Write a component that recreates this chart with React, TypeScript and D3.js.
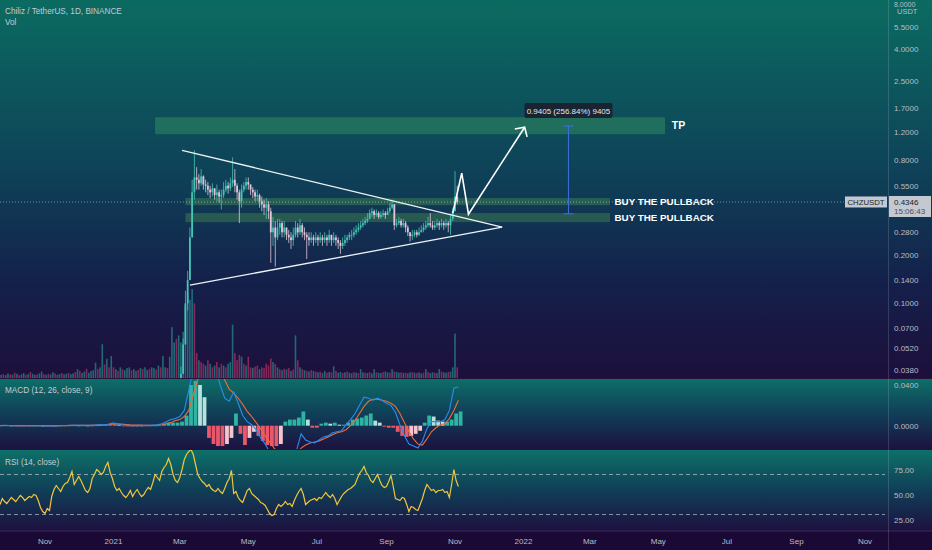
import React from "react";
import * as d3 from "d3";

const parse = (s: string) => d3.timeParse("%Y-%m-%d")(s) as Date;

// ---------- data ----------
const indicatorStart = "2020-09-22";
const indicatorStepDays = 4;
const rsiStepDays = 2;
const volumeStart = "2020-09-22";
const volumeStepDays = 2;
const candleStart = "2021-02-27";
const candleStepDays = 2;
const candleFirstOpen = 0.028;

const candleClose = [
  0.030, 0.036, 0.055, 0.100, 0.140, 0.260, 0.500, 0.620, 0.600, 0.570,
  0.630, 0.560, 0.550, 0.520, 0.500, 0.530, 0.480, 0.500, 0.470, 0.480,
  0.520, 0.550, 0.530, 0.570, 0.600, 0.550, 0.500, 0.440, 0.520, 0.550,
  0.580, 0.560, 0.520, 0.500, 0.470, 0.480, 0.440, 0.420, 0.400, 0.420,
  0.380, 0.280, 0.300, 0.260, 0.300, 0.320, 0.280, 0.300, 0.270, 0.260,
  0.250, 0.270, 0.300, 0.280, 0.310, 0.280, 0.270, 0.260, 0.250, 0.260,
  0.250, 0.260, 0.250, 0.260, 0.250, 0.260, 0.250, 0.270, 0.250, 0.260,
  0.250, 0.240, 0.230, 0.240, 0.250, 0.260, 0.270, 0.270, 0.280, 0.290,
  0.300, 0.310, 0.320, 0.330, 0.340, 0.370, 0.380, 0.360, 0.370, 0.350,
  0.360, 0.370, 0.360, 0.380, 0.400, 0.420, 0.310, 0.320, 0.330, 0.310,
  0.320, 0.300, 0.280, 0.265, 0.270, 0.280, 0.270, 0.280, 0.290, 0.300,
  0.310, 0.320, 0.310, 0.300, 0.310, 0.320, 0.310, 0.320, 0.310, 0.320,
  0.310, 0.340, 0.380, 0.470, 0.4346,
];
const candleHigh = [
  0.032, 0.040, 0.060, 0.120, 0.160, 0.300, 0.600, 0.920, 0.720, 0.650,
  0.700, 0.640, 0.600, 0.580, 0.550, 0.570, 0.530, 0.560, 0.520, 0.520,
  0.580, 0.600, 0.580, 0.620, 0.830, 0.700, 0.570, 0.520, 0.560, 0.580,
  0.620, 0.620, 0.560, 0.540, 0.520, 0.520, 0.490, 0.470, 0.450, 0.460,
  0.440, 0.400, 0.350, 0.330, 0.340, 0.340, 0.330, 0.330, 0.300, 0.290,
  0.280, 0.300, 0.330, 0.320, 0.340, 0.320, 0.300, 0.280, 0.280, 0.280,
  0.270, 0.280, 0.270, 0.280, 0.270, 0.280, 0.270, 0.290, 0.270, 0.280,
  0.270, 0.260, 0.250, 0.260, 0.270, 0.270, 0.280, 0.290, 0.300, 0.310,
  0.320, 0.330, 0.340, 0.350, 0.370, 0.390, 0.400, 0.390, 0.390, 0.380,
  0.380, 0.390, 0.380, 0.400, 0.430, 0.450, 0.420, 0.340, 0.350, 0.340,
  0.340, 0.330, 0.310, 0.280, 0.290, 0.290, 0.290, 0.300, 0.310, 0.320,
  0.330, 0.350, 0.370, 0.330, 0.330, 0.340, 0.330, 0.340, 0.330, 0.340,
  0.330, 0.360, 0.400, 0.680, 0.550,
];
const candleLow = [
  0.028, 0.030, 0.036, 0.055, 0.090, 0.140, 0.260, 0.450, 0.520, 0.520,
  0.550, 0.520, 0.500, 0.480, 0.460, 0.470, 0.450, 0.440, 0.430, 0.390,
  0.460, 0.500, 0.490, 0.510, 0.540, 0.500, 0.450, 0.320, 0.400, 0.500,
  0.520, 0.520, 0.480, 0.460, 0.440, 0.440, 0.400, 0.380, 0.360, 0.340,
  0.340, 0.180, 0.230, 0.170, 0.250, 0.270, 0.260, 0.260, 0.250, 0.240,
  0.220, 0.230, 0.260, 0.260, 0.270, 0.260, 0.250, 0.190, 0.230, 0.240,
  0.230, 0.240, 0.230, 0.240, 0.230, 0.240, 0.230, 0.240, 0.230, 0.240,
  0.230, 0.220, 0.205, 0.220, 0.230, 0.240, 0.250, 0.250, 0.260, 0.270,
  0.280, 0.290, 0.300, 0.310, 0.320, 0.340, 0.350, 0.340, 0.350, 0.340,
  0.340, 0.350, 0.340, 0.360, 0.370, 0.390, 0.290, 0.300, 0.310, 0.300,
  0.300, 0.280, 0.265, 0.245, 0.250, 0.260, 0.260, 0.265, 0.280, 0.280,
  0.290, 0.300, 0.300, 0.290, 0.290, 0.300, 0.290, 0.300, 0.290, 0.300,
  0.280, 0.270, 0.330, 0.380, 0.420,
];

// volume in millions of CHZ; negative sign = down day
const volumeM = [
  90, -110, 80, 130, -100, 90, -150, 120, -80, 100, 140, -90, 110, -170, 120, 90, -100, 130, 180, -110,
  90, -120, 100, 160, -130, 90, 110, -140, 100, 120, -150, 110, 130, -170, 250, -200, 140, 180, -260, 150,
  200, 220, 430, -250, 300, 950, -380, 540, -300, 620, -300, 250, -200, 300, -250, 220, 280, 300, -220, 250,
  200, -230, 280, -250, 300, 220, -260, 300, 280, -240, 350, -300, 620, 300, -280, 600, 1430, 1000, -1100, 1200,
  1000, 1300, 2000, 2400, 2200, 2500, -2100, -700, 500, -450, -400, 350, -500, 400, -300, 350, -450, 300, -400, 350,
  -300, 400, 450, 1500, -700, -500, -650, 600, -400, 350, -600, -300, 280, -320, -350, 250, -300, -280, -400, -350,
  -550, 450, -400, 300, -250, 220, -260, 240, -280, 200, -240, 1200, -500, 300, -250, 220, -200, 180, -220, 200,
  -180, 160, -180, 140, 200, -150, 170, -160, 330, -200, 150, 170, -140, 160, -180, 150, 130, -170, 150, -140,
  250, 160, -150, 140, -170, 130, 250, -160, 150, 140, -170, 180, 160, -150, 250, -180, 170, 150, -160, 140,
  -150, 130, 160, -170, 150, -140, 160, 130, -150, 250, -170, 140, 160, -150, 140, 250, -180, 160, 150, -170,
  180, 300, 1250, -300,
];

const macdLine = [
  0.0002, 0.0003, 0.0002, 0.0001, 0, 0, -0.0001, 0, 0.0001, 0, -0.0002, -0.0003, -0.0002, 0, 0.0002, 0.0003,
  0.0005, 0.0004, 0.0005, 0.0004, 0.0003, 0.0006, 0.0009, 0.001,
  0.0015, 0.0025, 0.002, 0.001, 0.0005, 0.0003, 0.0002, 0.0004, 0.0003, 0.0005, 0.0006, 0.0008,
  0.002, 0.004, 0.006, 0.007, 0.009, 0.015, 0.035, 0.055, 0.075, 0.085, 0.08, 0.07, 0.055, 0.04,
  0.027, 0.024, 0.033, 0.022, 0.01, 0.004, 0.001, -0.004, -0.012, -0.018, -0.026, -0.032, -0.034, -0.033, -0.031, -0.028, -0.024,
  -0.008, -0.014, -0.016, -0.017, -0.014, -0.011, -0.01, -0.007, -0.006, -0.005, 0.001, 0.006, 0.012, 0.02, 0.028, 0.027,
  0.025, 0.027, 0.025, 0.022, 0.02, 0.013, 0.001, -0.01, -0.018, -0.02, -0.022, -0.015, -0.003, 0.004, 0.004, 0.004,
  0.006, 0.015, 0.037, 0.038,
];
const macdSignal = [
  0.0001, 0.0002, 0.0002, 0.0002, 0.0001, 0.0001, 0, 0, 0, 0, 0, -0.0001, -0.0002, -0.0001, 0, 0.0001,
  0.0003, 0.0003, 0.0004, 0.0004, 0.0004, 0.0004, 0.0006, 0.0007,
  0.001, 0.0015, 0.0017, 0.0015, 0.0012, 0.0009, 0.0007, 0.0006, 0.0005, 0.0005, 0.0005, 0.0006,
  0.001, 0.002, 0.003, 0.005, 0.006, 0.009, 0.015, 0.03, 0.045, 0.058, 0.066, 0.068, 0.065, 0.057,
  0.045, 0.036, 0.032, 0.027, 0.021, 0.014, 0.009, 0.003, -0.003, -0.01, -0.016, -0.022, -0.027, -0.029, -0.03, -0.029, -0.027,
  -0.022, -0.019, -0.017, -0.016, -0.015, -0.013, -0.011, -0.009, -0.007, -0.006, -0.004, 0, 0.005, 0.012, 0.019, 0.024,
  0.026, 0.026, 0.025, 0.024, 0.022, 0.019, 0.012, 0.003, -0.006, -0.013, -0.018, -0.019, -0.013, -0.006, -0.002, 0.001,
  0.002, 0.007, 0.015, 0.025,
];
const macdHist = [
  0.0001, 0.0001, 0, -0.0001, -0.0001, -0.0001, -0.0001, 0, 0.0001, 0, -0.0002, -0.0002, 0, 0.0001, 0.0002, 0.0002,
  0.0002, 0.0001, 0.0001, 0, -0.0001, 0.0002, 0.0003, 0.0003,
  0.0005, 0.001, 0.0003, -0.0005, -0.0007, -0.0006, -0.0005, -0.0002, -0.0002, 0, 0.0001, 0.0002,
  0.002, 0.003, 0.003, 0.003, 0.004, 0.01, 0.04, 0.044, 0.04, 0.028, -0.012, -0.018, -0.02, -0.02,
  -0.018, -0.012, 0.012, -0.008, -0.019, -0.012, -0.006, -0.01, -0.015, -0.019, -0.02, -0.02, -0.018, 0.004, 0.006, 0.006, 0.008,
  0.014, 0.006, -0.002, -0.002, 0.002, 0.003, 0.002, 0.003, 0.001, 0.001, 0.003, 0.006, 0.007, 0.008, 0.01, 0.012,
  0.005, 0.003, -0.001, -0.002, -0.002, -0.006, -0.01, -0.011, -0.01, -0.008, -0.005, 0.003, 0.01, 0.009, 0.005, 0.004,
  0.004, 0.006, 0.012, 0.014,
];

// RSI every 2 days from 2020-09-22
const rsiValues = [
  40, 46, 43, 41, 44, 47, 45, 43, 46, 49, 47, 44, 46, 48, 47, 50, 49, 44, 37, 33,
  31, 36, 34, 48, 55, 59, 56, 53, 58, 61, 62, 67, 73, 60, 64, 68, 64, 59, 54, 52,
  56, 66, 70, 75, 73, 70, 72, 78, 82, 72, 66, 58, 54, 56, 52, 49, 47, 50, 54, 48,
  52, 55, 51, 48, 50, 54, 57, 55, 62, 70, 67, 64, 73, 77, 80, 86, 80, 70, 64, 62,
  67, 75, 85, 90, 93, 95, 90, 80, 70, 66, 63, 61, 58, 60, 56, 54, 53, 56, 53, 51,
  56, 62, 66, 74, 51, 53, 47, 44, 42, 48, 54, 56, 51, 49, 47, 45, 42, 41, 39, 35,
  31, 29, 30, 36, 40, 38, 40, 43, 40, 41, 38, 44, 49, 53, 56, 50, 40, 42, 44, 45,
  46, 44, 47, 46, 49, 52, 49, 47, 50, 46, 40, 44, 48, 51, 53, 55, 56, 58, 60, 66,
  71, 74, 78, 72, 69, 64, 62, 66, 70, 64, 59, 57, 58, 63, 69, 58, 46, 45, 44, 47,
  46, 40, 33, 38, 37, 35, 34, 40, 46, 54, 60, 57, 54, 55, 52, 54, 54, 55, 52, 53,
  47, 60, 75, 64, 58,
];

const priceTicks = [5.5, 4, 2.5, 1.7, 1.2, 0.8, 0.55, 0.28, 0.2, 0.14, 0.1, 0.07, 0.052, 0.038];
const topPriceTick = 8;
const macdTicks = [0.04, 0];
const rsiTicks = [75, 50, 25];
const rsiBands = [70, 30];
const timeStart = "2020-11-01";
const timeEnd = "2022-11-01";

const lastPrice = 0.4346;
const lastClock = "15:06:43";
const symbol = "CHZUSDT";
const titleText = "Chiliz / TetherUS, 1D, BINANCE";

const triangleUpper: [string, number][] = [["2021-03-03", 0.92], ["2021-12-13", 0.302]];
const triangleLower: [string, number][] = [["2021-03-10", 0.13], ["2021-12-13", 0.302]];
const zoneFrom = ["2021-02-07", "2021-03-06", "2021-03-06"];
const zoneTo = ["2022-05-07", "2022-03-19", "2022-03-19"];
const zoneLow = [1.162, 0.415, 0.3245];
const zoneHigh = [1.486, 0.46, 0.37];
const zoneLabels = ["TP", "BUY THE PULLBACK", "BUY THE PULLBACK"];
const zoneLabelDate = ["2022-05-13", "2022-03-23", "2022-03-23"];
const arrowPath: [string, number][] = [
  ["2021-10-30", 0.37], ["2021-11-07", 0.66], ["2021-11-13", 0.364], ["2022-01-02", 1.286],
];
const measureDate = "2022-02-10";
const measureFrom = 0.3662;
const measureTo = 1.3067;
const measureText = "0.9405 (256.84%) 9405";

// ---------- chart ----------
const FONT = "'Liberation Sans', Arial, sans-serif";
const AX = 888;

export default function App() {
  const x = d3.scaleTime().domain([parse(timeStart), parse(timeEnd)]).range([45, 865]);
  const yP = d3.scaleLog().domain([0.038, 5.5]).range([370, 27]);
  const yV = d3.scaleLinear().domain([0, 2700]).range([378, 282]);
  const yM = d3.scaleLinear().domain([0, 0.04]).range([425.7, 385]);
  const yR = d3.scaleLinear().domain([25, 75]).range([519.5, 469.5]);
  const dayPx = x(parse("2021-01-02")) - x(parse("2021-01-01"));

  const iStart = parse(indicatorStart);
  const vStart = parse(volumeStart);
  const cStart = parse(candleStart);
  const at = (s: Date, step: number, i: number) => d3.timeDay.offset(s, step * i);

  const candles = candleClose.map((c, i) => {
    const o = i === 0 ? candleFirstOpen : candleClose[i - 1];
    return {
      t: at(cStart, candleStepDays, i),
      o, c,
      h: Math.max(candleHigh[i], o, c),
      l: Math.min(candleLow[i], o, c),
    };
  });

  const indX = (i: number) => x(at(iStart, indicatorStepDays, i));
  const macdGen = d3.line<number>().x((_, i) => indX(i)).y((v) => yM(v));
  const rsiGen = d3.line<number>().x((_, i) => x(at(iStart, rsiStepDays, i))).y((v) => yR(v));
  const lineP = d3.line<[string, number]>().x((d) => x(parse(d[0]))).y((d) => yP(d[1]));

  const months = d3.timeMonth.every(2)!.range(parse(timeStart), d3.timeDay.offset(parse(timeEnd), 1));
  const fmtTick = (d: Date) => (d.getMonth() === 0 ? d3.timeFormat("%Y")(d) : d3.timeFormat("%b")(d));

  // arrow head
  const ap = arrowPath.map((d) => [x(parse(d[0])), yP(d[1])]);
  const tip = ap[ap.length - 1];
  const prev = ap[ap.length - 2];
  const ang = Math.atan2(prev[1] - tip[1], prev[0] - tip[0]);
  const headLen = 10;
  const wing = (da: number) => [tip[0] + headLen * Math.cos(ang + da), tip[1] + headLen * Math.sin(ang + da)];
  const w1 = wing(0.82);
  const w2 = wing(-0.82);

  const mx = x(parse(measureDate));
  const myTop = yP(measureTo);
  const myBot = yP(measureFrom);

  const lastY = yP(lastPrice);
  const axisText = "#b8bcc8";

  return (
    <svg width={932} height={550} style={{ position: "fixed", left: 0, top: 0, display: "block" }}
      fontFamily={FONT}>
      <defs>
        <linearGradient id="gMain" x1="0" y1="0" x2="0" y2="1">
          <stop offset="0" stopColor="#0b6b61" />
          <stop offset="0.45" stopColor="#0e4258" />
          <stop offset="0.75" stopColor="#14204a" />
          <stop offset="1" stopColor="#1d0f3c" />
        </linearGradient>
        <linearGradient id="gSub" x1="0" y1="0" x2="0" y2="1">
          <stop offset="0" stopColor="#0d7068" />
          <stop offset="0.5" stopColor="#103e57" />
          <stop offset="1" stopColor="#1d1140" />
        </linearGradient>
        <clipPath id="cMain"><rect x={0} y={0} width={AX} height={378} /></clipPath>
        <clipPath id="cMacd"><rect x={0} y={379} width={AX} height={70} /></clipPath>
        <clipPath id="cRsi"><rect x={0} y={450} width={AX} height={81} /></clipPath>
      </defs>

      {/* backgrounds */}
      <rect x={0} y={0} width={932} height={378} fill="url(#gMain)" />
      <rect x={0} y={378} width={932} height={72} fill="url(#gSub)" />
      <rect x={0} y={450} width={932} height={81} fill="url(#gSub)" />
      <rect x={0} y={531} width={932} height={19} fill="#1b0935" />
      <line x1={0} x2={932} y1={378.5} y2={378.5} stroke="#24123f" strokeWidth={1} />
      <line x1={0} x2={932} y1={449.5} y2={449.5} stroke="#24123f" strokeWidth={1} />
      <line x1={0} x2={932} y1={531} y2={531} stroke="#3a2a5a" strokeWidth={1} />
      <line x1={AX + 0.5} x2={AX + 0.5} y1={0} y2={550} stroke="rgba(200,210,230,0.18)" />

      {/* main pane */}
      <g clipPath="url(#cMain)">
        {/* volume */}
        {volumeM.map((v, j) => {
          const t = at(vStart, volumeStepDays, j);
          const cx = x(t) + dayPx * volumeStepDays / 2;
          const h = yV(Math.abs(v));
          return (
            <rect key={"v" + j} x={cx - 0.8} y={h} width={1.6} height={378 - h}
              fill={v >= 0 ? "rgba(40,175,165,0.55)" : "rgba(220,60,110,0.55)"} />
          );
        })}
        {/* zones */}
        {zoneLow.map((lo, k) => (
          <rect key={"z" + k} x={x(parse(zoneFrom[k]))} width={x(parse(zoneTo[k])) - x(parse(zoneFrom[k]))}
            y={yP(zoneHigh[k])} height={yP(lo) - yP(zoneHigh[k])}
            fill={k === 0 ? "rgba(70,175,100,0.35)" : "rgba(90,170,80,0.32)"} />
        ))}
        {/* last price dotted line */}
        <line x1={0} x2={AX} y1={lastY} y2={lastY} stroke="rgba(210,215,225,0.55)" strokeDasharray="1 2" />
        {/* candles */}
        {candles.map((d, i) => {
          const cx = x(d.t) + dayPx * candleStepDays / 2;
          const up = d.c >= d.o;
          const col = up ? "#45c4b3" : "#e2c4d6";
          const top = yP(Math.max(d.o, d.c));
          const bot = yP(Math.min(d.o, d.c));
          return (
            <g key={"c" + i}>
              <line x1={cx} x2={cx} y1={yP(d.h)} y2={yP(d.l)} stroke={col} strokeWidth={0.8} />
              <rect x={cx - 0.9} y={top} width={1.8} height={Math.max(0.8, bot - top)} fill={col} />
            </g>
          );
        })}
        {/* triangle */}
        <path d={lineP(triangleUpper)!} stroke="#eef3f5" strokeWidth={1.3} fill="none" />
        <path d={lineP(triangleLower)!} stroke="#eef3f5" strokeWidth={1.3} fill="none" />
        {/* arrow */}
        <path d={lineP(arrowPath)!} stroke="#ffffff" strokeWidth={1.6} fill="none" strokeLinejoin="miter" />
        <path d={`M${w1[0]},${w1[1]}L${tip[0]},${tip[1]}L${w2[0]},${w2[1]}`} stroke="#ffffff" strokeWidth={1.6} fill="none" />
        {/* measure */}
        <line x1={mx} x2={mx} y1={myTop} y2={myBot} stroke="#3f6fe0" strokeWidth={1} />
        <line x1={mx - 5} x2={mx + 5} y1={myTop} y2={myTop} stroke="#3f6fe0" strokeWidth={1} />
        <line x1={mx - 5} x2={mx + 5} y1={myBot} y2={myBot} stroke="#3f6fe0" strokeWidth={1} />
        <rect x={mx - 44} y={myTop - 23} width={88} height={15} rx={2} fill="rgba(28,30,42,0.88)" />
        <text x={mx} y={myTop - 12.5} textAnchor="middle" fontSize={8} fill="#e6e8ee">{measureText}</text>
        {/* zone labels */}
        {zoneLabels.map((s, k) => (
          <text key={"zl" + k} x={x(parse(zoneLabelDate[k]))}
            y={(yP(zoneLow[k]) + yP(zoneHigh[k])) / 2 + 3.6}
            fontSize={k === 0 ? 10.5 : 9.8} fontWeight="bold" fill="#ffffff">{s}</text>
        ))}
        {/* header */}
        <text x={5} y={14} fontSize={8.2} fill="#c5cad4">{titleText}</text>
        <text x={5} y={25} fontSize={8.2} fill="#c5cad4">Vol</text>
      </g>

      {/* symbol & price labels */}
      <rect x={845} y={lastY - 5.5} width={42} height={11} fill="#c4c8d0" />
      <text x={866} y={lastY + 3} textAnchor="middle" fontSize={7.8} fill="#1a1d28">{symbol}</text>
      <rect x={889} y={lastY - 6} width={42} height={21} fill="#c4c8d0" />
      <text x={894} y={lastY + 3} fontSize={8} fill="#1a1d28">{lastPrice.toFixed(4)}</text>
      <text x={894} y={lastY + 12} fontSize={8} fill="#4a4e5a">{lastClock}</text>

      {/* price axis */}
      {priceTicks.map((p) => (
        <text key={"pt" + p} x={894} y={yP(p) + 3} fontSize={8} fill={axisText}>{p.toFixed(4)}</text>
      ))}
      <text x={894} y={6.5} fontSize={7} fill={axisText}>{topPriceTick.toFixed(4)}</text>
      <text x={897} y={14} fontSize={7.5} fill={axisText}>USDT</text>

      {/* MACD pane */}
      <g clipPath="url(#cMacd)">
        {macdHist.map((v, i) => {
          const cx = indX(i) + dayPx * indicatorStepDays / 2;
          const prevV = i > 0 ? macdHist[i - 1] : 0;
          const col = v >= 0
            ? (v >= prevV ? "#2fb3a3" : "#b4e2dc")
            : (v <= prevV ? "#e9576a" : "#f6c4cc");
          const y0 = yM(0), y1 = yM(v);
          return <rect key={"h" + i} x={cx - 1.9} y={Math.min(y0, y1)} width={3.8}
            height={Math.max(0.6, Math.abs(y1 - y0))} fill={col} />;
        })}
        <path d={macdGen(macdSignal)!} stroke="#ef6a3a" strokeWidth={1.1} fill="none" />
        <path d={macdGen(macdLine)!} stroke="#2a8cf0" strokeWidth={1.1} fill="none" />
        <text x={5} y={393} fontSize={8.2} fill="#c5cad4">MACD (12, 26, close, 9)</text>
      </g>
      {macdTicks.map((v) => (
        <text key={"mt" + v} x={894} y={yM(v) + 3} fontSize={8} fill={axisText}>{v.toFixed(4)}</text>
      ))}

      {/* RSI pane */}
      <g clipPath="url(#cRsi)">
        {rsiBands.map((b) => (
          <line key={"rb" + b} x1={0} x2={AX - 3} y1={yR(b)} y2={yR(b)} stroke="rgba(210,215,225,0.6)"
            strokeDasharray="4 3" />
        ))}
        <path d={rsiGen(rsiValues)!} stroke="#f5c63a" strokeWidth={1.2} fill="none" />
        <text x={5} y={465} fontSize={8.2} fill="#c5cad4">RSI (14, close)</text>
      </g>
      {rsiTicks.map((v) => (
        <text key={"rt" + v} x={894} y={yR(v) + 3} fontSize={8} fill={axisText}>{v.toFixed(2)}</text>
      ))}

      {/* time axis */}
      {months.map((d) => (
        <text key={"tm" + d.getTime()} x={x(d)} y={544} textAnchor="middle" fontSize={8} fill={axisText}>
          {fmtTick(d)}
        </text>
      ))}
    </svg>
  );
}
